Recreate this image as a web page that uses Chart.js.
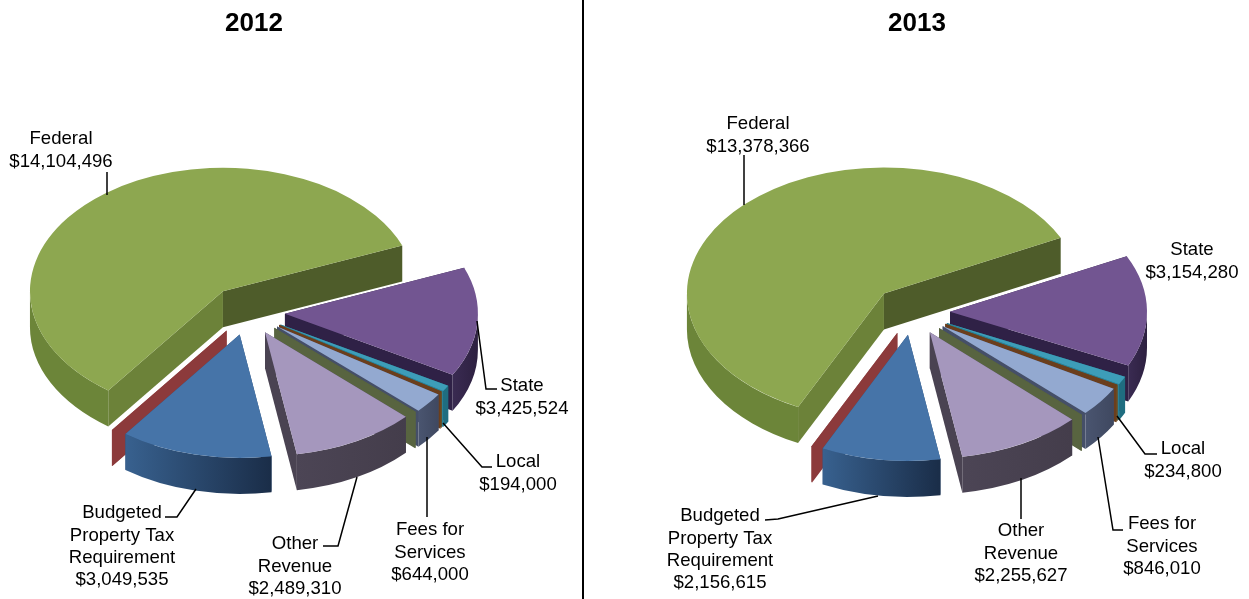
<!DOCTYPE html>
<html>
<head>
<meta charset="utf-8">
<script src="https://cdn.jsdelivr.net/npm/chart.js@4"></script>
<style>
    html, body { margin: 0; padding: 0; background: #fff; width: 1249px; height: 599px; overflow: hidden; }
    canvas { position: absolute; top: 0; }
    #chart2012 { left: 0; }
    #chart2013 { left: 585px; }
    #divider { position: absolute; left: 582px; top: 0; width: 2px; height: 599px; background: #000; }
</style>
</head>
<body>
<canvas id="chart2012" width="582" height="599"></canvas>
<div id="divider"></div>
<canvas id="chart2013" width="664" height="599"></canvas>
<script>
// slice order is clockwise from the Budgeted slice, the three blank ones are slivers with no label
const categories = ["Budgeted Property Tax Requirement", "", "Federal", "State", "Local", "", "Fees for Services", "", "Other Revenue"];
const values2012 = [3049535, 12000, 14104496, 3425524, 194000, 45000, 644000, 12000, 2489310];
const values2013 = [2156615, 12000, 13378366, 3154280, 234800, 45000, 846010, 12000, 2255627];

const labelLines = [["Budgeted", "Property Tax", "Requirement"], [], ["Federal"], ["State"], ["Local"], [], ["Fees for", "Services"], [], ["Other", "Revenue"]];

const topColors = ["#4674a8", "#8c3a3b", "#8da750", "#725591", "#3d9db8", "#6b3e1c", "#93a9d0", "#586440", "#a597bd"];
const wallLeft = ["#38618f", "#8c3a3b", "#6c8539", "#3a2b52", "#1f6d80", "#6b4a20", "#4a5570", "#586440", "#4c4555"];
const wallRight = ["#1a2d48", "#8c3a3b", "#6c8539", "#2d2040", "#1f6d80", "#6b4a20", "#3f4860", "#586440", "#443d4b"];
const faceStart = ["#2d4f78", "#8c3a3b", "#6c8239", "#2f2146", "#1f6d80", "#6b4a20", "#454f68", "#586440", "#4a4352"];
const faceEnd = ["#2d4f78", "#8c3a3b", "#4e5c2a", "#2f2146", "#2a8096", "#6b3e1c", "#454f68", "#586440", "#4a4352"];
const explode = [36, 36, 41, 37, 38, 37, 37, 36, 36];

const tilt = 0.64;
const depth = 36;
const pieRotation = 170.5;
const fontName = "'Liberation Sans', Arial, sans-serif";

// [slice index, centre x, first line y]
const labels2012 = [[2, 61, 139], [3, 522, 386], [4, 518, 462], [6, 430, 530], [8, 295, 544], [0, 122, 513]];
const labels2013 = [[2, 758, 124], [3, 1192, 250], [4, 1183, 449], [6, 1162, 524], [8, 1021, 531], [0, 720, 516]];
const leaders2012 = [
    [[107, 172], [107, 195]],
    [[477, 321], [486, 389], [497, 389]],
    [[443, 423], [482, 467], [492, 467]],
    [[427, 437], [427, 517]],
    [[357, 477], [338, 546], [323, 546]],
    [[196, 489], [177, 517], [165, 517]]
];
const leaders2013 = [
    [[744, 155], [744, 205]],
    [[1117, 416], [1145, 454], [1157, 454]],
    [[1098, 437], [1113, 530], [1123, 530]],
    [[1021, 478], [1021, 519]],
    [[878, 496], [778, 519], [765, 520]]
];

function drawOuterWall(ctx, i, cx, cy, r, a, b)
{
    for(let k = -1; k <= 1; k++)
    {
        const from = Math.max(a, 2 * Math.PI * k);
        const to = Math.min(b, Math.PI + 2 * Math.PI * k);
        if(to <= from) continue;
        const x1 = cx + r * Math.cos(from);
        const x2 = cx + r * Math.cos(to);
        const grad = ctx.createLinearGradient(Math.min(x1, x2), 0, Math.max(x1, x2) + 0.01, 0);
        grad.addColorStop(0, wallLeft[i]);
        grad.addColorStop(1, wallRight[i]);
        ctx.fillStyle = grad;
        ctx.beginPath();
        ctx.ellipse(cx, cy, r, r * tilt, 0, from, to);
        ctx.ellipse(cx, cy + depth, r, r * tilt, 0, to, from, true);
        ctx.closePath();
        ctx.fill();
    }
}

function drawFace(ctx, cx, cy, r, angle, color)
{
    const ex = cx + r * Math.cos(angle);
    const ey = cy + r * tilt * Math.sin(angle);
    ctx.fillStyle = color;
    ctx.beginPath();
    ctx.moveTo(cx, cy);
    ctx.lineTo(ex, ey);
    ctx.lineTo(ex, ey + depth);
    ctx.lineTo(cx, cy + depth);
    ctx.closePath();
    ctx.fill();
}

function pie3dPlugin(center, values, labelSpots, leaders, originX)
{
    return {
        id: "pie3d",
        beforeDatasetsDraw(chart)
        {
            const ctx = chart.ctx;
            const arcs = chart.getDatasetMeta(0).data;
            const mids = arcs.map(arc => (arc.startAngle + arc.endAngle) / 2);
            const order = arcs.map((arc, i) => i).sort((p, q) => Math.sin(mids[p]) - Math.sin(mids[q]));

            // back slices first so the front ones sit over them
            order.forEach(i => {
                const arc = arcs[i];
                const r = arc.outerRadius;
                const cx = center[0] - originX + explode[i] * Math.cos(mids[i]);
                const cy = center[1] + explode[i] * tilt * Math.sin(mids[i]);
                drawFace(ctx, cx, cy, r, arc.startAngle, faceStart[i]);
                drawFace(ctx, cx, cy, r, arc.endAngle, faceEnd[i]);
                drawOuterWall(ctx, i, cx, cy, r, arc.startAngle, arc.endAngle);
                ctx.save();
                ctx.translate(cx, cy);
                ctx.scale(1, tilt);
                ctx.translate(-arc.x, -arc.y);
                arc.draw(ctx);
                ctx.restore();
            });

            ctx.strokeStyle = "#000";
            ctx.lineWidth = 1.5;
            leaders.forEach(points => {
                ctx.beginPath();
                points.forEach((p, n) => {
                    if(n === 0) ctx.moveTo(p[0] - originX, p[1]);
                    else ctx.lineTo(p[0] - originX, p[1]);
                });
                ctx.stroke();
            });

            ctx.fillStyle = "#000";
            ctx.font = "18.6px " + fontName;
            ctx.textAlign = "center";
            ctx.textBaseline = "middle";
            labelSpots.forEach(spot => {
                const lines = labelLines[spot[0]].concat(["$" + values[spot[0]].toLocaleString("en-US")]);
                lines.forEach((line, n) => ctx.fillText(line, spot[1] - originX, spot[2] + n * 22.4));
            });
            return false;
        }
    };
}

function generateChart(id, title, values, radius, center, labelSpots, leaders, originX, rightPad)
{
    return new Chart(document.getElementById(id), {
        type: "pie",
        data: {
            labels: categories,
            datasets: [{
                data: values,
                backgroundColor: topColors,
                borderWidth: 0
            }]
        },
        options: {
            responsive: false,
            animation: false,
            rotation: pieRotation,
            radius: radius,
            layout: { padding: { right: rightPad } },
            plugins: {
                legend: { display: false },
                tooltip: { enabled: false },
                title: {
                    display: true,
                    text: title,
                    color: "#000",
                    font: { family: fontName, size: 26, weight: "bold" },
                    padding: { top: 8, bottom: 0 }
                }
            }
        },
        plugins: [pie3dPlugin(center, values, labelSpots, leaders, originX)]
    });
}

generateChart("chart2012", "2012", values2012, 193, [248, 312], labels2012, leaders2012, 0, 74);
generateChart("chart2013", "2013", values2013, 197, [913, 312], labels2013, leaders2013, 585, 0);
</script>
</body>
</html>
